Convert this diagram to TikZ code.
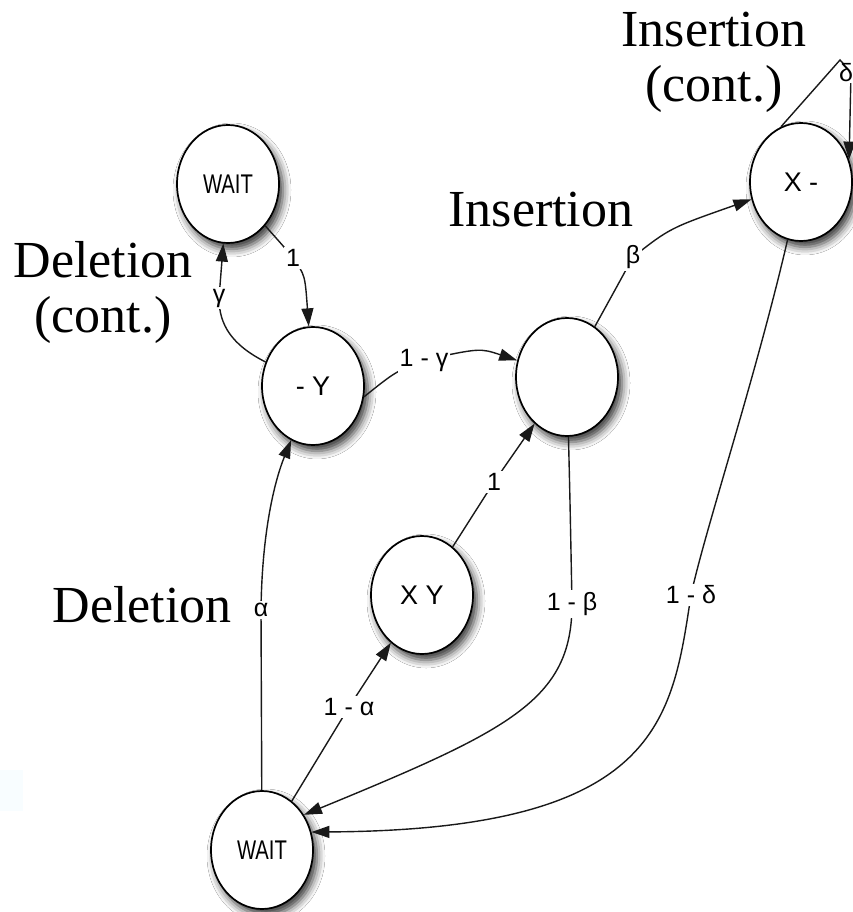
\documentclass[tikz,border=0pt]{standalone}
\usepackage{fontspec}
\usepackage{graphicx}
\setmainfont{Liberation Serif}
\newfontfamily\diagsans{Liberation Sans}
\usetikzlibrary{shapes.geometric,arrows.meta,shadows.blur}
\begin{document}
\begin{tikzpicture}[x=1pt,y=-1pt,
  state/.style={ellipse, draw=black, line width=1.7pt, fill=white,
    minimum width=102pt, minimum height=118pt, inner sep=0pt,
    font=\diagsans\fontsize{27}{31}\selectfont,
    blur shadow={shadow xshift=4pt, shadow yshift=-6pt,
      shadow blur radius=8pt, shadow opacity=80}},
  edge/.style={draw=black!90, line width=1.4pt,
    -{Triangle[length=18pt,width=12pt]}},
  lab/.style={fill=white, inner sep=2pt,
    font=\diagsans\fontsize{25}{29}\selectfont},
  title/.style={font=\fontsize{52}{55}\selectfont, align=center}
]
% page
\fill[white] (0,0) rectangle (853,912);
\useasboundingbox (0,0) rectangle (853,912);
\fill[blue!20!white!60!cyan!5] (0,770) rectangle (23,811);

% states
\node[state] (W1) at (228,184) {\scalebox{0.75}[1]{WAIT}};
\node[state] (MY) at (313,386) {- Y};
\node[state] (M)  at (567,377) {};
\node[state] (X)  at (801,182) {X -};
\node[state] (XY) at (422,595) {X Y};
\node[state] (W2) at (262,850) {\scalebox{0.75}[1]{WAIT}};

% transitions
\draw[edge] (W1) .. controls (285,248) .. (293,258) node[lab]{1}
            .. controls (305,275) .. (MY);
\draw[edge] (MY) .. controls (232,345) and (219,325) .. (219,298) node[lab]{γ}
            -- (W1);
\draw[edge] (MY.-12) .. controls (395,372) .. (424,360) node[lab]{1 - γ}
            .. controls (480,348) .. (M);
\draw[edge] (M) .. controls (615,290) .. (633,257) node[lab]{β}
            .. controls (670,228) .. (X);
\draw[edge] (X.110) -- (840,60) -- (851,72) -- (X.25);
\node[lab, inner sep=1pt] (dlt) at (846,73) {δ};
\draw[edge] (X) .. controls (755,380) and (705,530) .. (691,595) node[lab]{1 - δ}
            .. controls (672,720) and (660,830) .. (W2.20);
\draw[edge] (M) .. controls (570,500) .. (572,604) node[lab]{1 - β}
            .. controls (572,700) and (510,730) .. (W2.40);
\draw[edge] (W2) -- (349,707) node[lab]{1 - α} -- (XY);
\draw[edge] (XY) -- (494,482) node[lab]{1} -- (M);
\draw[edge] (W2) -- (261,610) node[lab]{α}
            .. controls (262,530) and (275,480) .. (MY);

% annotations
\node[title] (tdc) at (103,292) {Deletion\\(cont.)};
\node[title, anchor=base] (td) at (142,622) {Deletion};
\node[title, anchor=base] (ti) at (541,226) {Insertion};
\node[title] (tic) at (714,62) {Insertion\\(cont.)};
\end{tikzpicture}
\end{document}
